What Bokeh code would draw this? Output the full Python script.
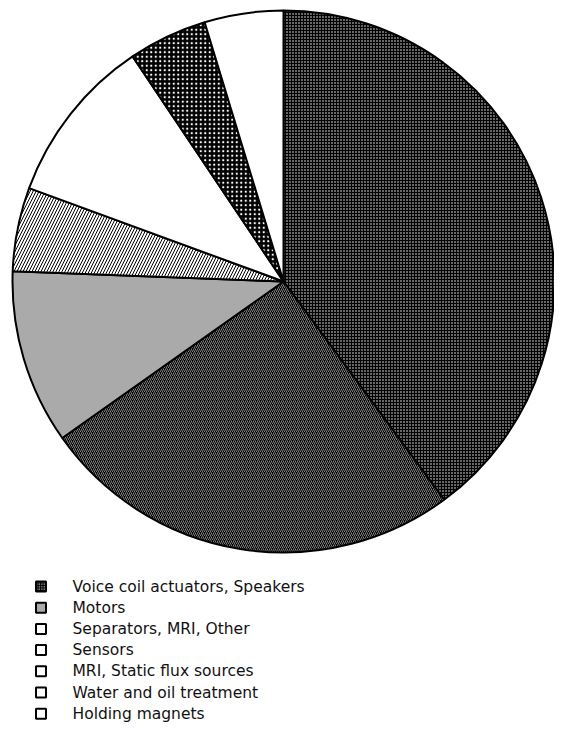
import math
from bokeh.plotting import figure
from bokeh.models import Range1d, ColumnDataSource
from bokeh.core.properties import value
from bokeh.embed import file_html
from bokeh.resources import INLINE

# ---- data (clockwise from top) ----
slice_values = [39.9, 25.3, 10.4, 5.0, 10.0, 4.7, 4.7]
slice_fill = ["#000000", "#000000", "#aaaaaa", "#ffffff", "#ffffff", "#000000", "#ffffff"]
slice_hatch = ["dot", "/", " ", "/", " ", "dot", " "]
slice_hatch_color = ["#ffffff", "#ffffff", "#000000", "#000000", "#000000", "#ffffff", "#000000"]
slice_hatch_scale = [3.0, 4.0, 4.0, 6.0, 4.0, 4.5, 4.0]
slice_hatch_weight = [1.2, 0.5, 1.0, 1.0, 1.0, 1.2, 1.0]

legend_labels = [
    "Voice coil actuators, Speakers",
    "Motors",
    "Separators, MRI, Other",
    "Sensors",
    "MRI, Static flux sources",
    "Water and oil treatment",
    "Holding magnets",
]
legend_fill = ["#000000", "#aaaaaa", "#ffffff", "#ffffff", "#ffffff", "#ffffff", "#ffffff"]
legend_hatch = ["dot", " ", " ", " ", " ", " ", " "]

W, H = 554, 722
p = figure(width=W, height=H, output_backend="svg", toolbar_location=None,
           x_range=Range1d(0, W), y_range=Range1d(0, H), min_border=0)
p.axis.visible = False
p.grid.visible = False
p.outline_line_color = None

def py(top_y):
    return H - top_y

cx, cy, r = 283, py(281), 271
total = sum(slice_values)
starts, ends = [], []
cum = 0.0
for v in slice_values:
    starts.append(math.pi / 2 - 2 * math.pi * cum / total)
    cum += v
    ends.append(math.pi / 2 - 2 * math.pi * cum / total)

src = ColumnDataSource(dict(x=[cx] * len(slice_values), y=[cy] * len(slice_values),
                            start=starts, end=ends, fill=slice_fill, hatch=slice_hatch,
                            hcol=slice_hatch_color, hscale=slice_hatch_scale,
                            hweight=slice_hatch_weight))
p.wedge(x="x", y="y", radius=r, start_angle="start", end_angle="end", direction="clock",
        fill_color="fill", hatch_pattern="hatch", hatch_color="hcol", hatch_scale="hscale",
        hatch_weight="hweight", line_color="black", line_width=2, source=src)

n = len(legend_labels)
row_y = [py(586 + i * 21.2) for i in range(n)]
lsrc = ColumnDataSource(dict(x=[40.5] * n, y=row_y, fill=legend_fill, hatch=legend_hatch,
                             tx=[72] * n, label=legend_labels))
p.rect(x="x", y="y", width=10, height=10, fill_color="fill", hatch_pattern="hatch",
       hatch_color="white", hatch_scale=2.5, hatch_weight=1, line_color="black", line_width=2,
       source=lsrc)
p.text(x="tx", y="y", text="label", text_font=value("DejaVu Sans"), text_font_size="15.5px",
       text_baseline="middle", text_color="#111111", source=lsrc)

open("out.html", "w").write(file_html(p, INLINE))
